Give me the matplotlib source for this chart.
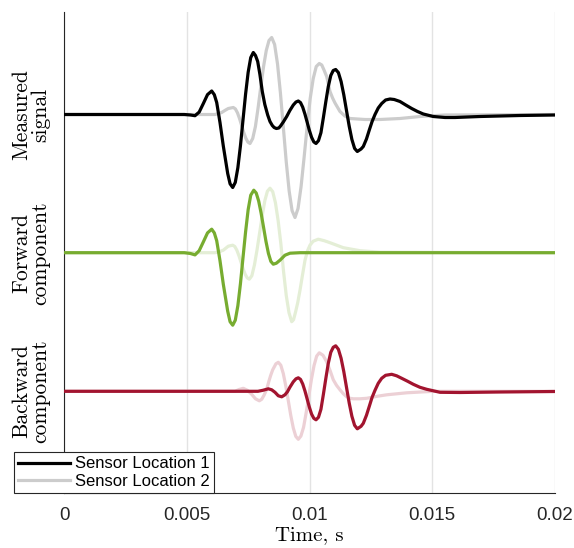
import matplotlib
matplotlib.use('Agg')
import matplotlib.pyplot as plt
import matplotlib.transforms as mtransforms

# time in ms, amplitude relative to the trace baseline
meas1_t = [0, 4.9, 5.15, 5.336, 5.506, 5.676, 5.846, 6.016, 6.123, 6.220, 6.354,
           6.489, 6.668, 6.765, 6.872, 6.977, 7.082, 7.187, 7.291, 7.396, 7.501,
           7.606, 7.711, 7.80, 7.890, 7.98, 8.077, 8.18, 8.297, 8.39, 8.485, 8.56,
           8.65, 8.75, 8.82, 8.933, 9.071, 9.20, 9.340, 9.45, 9.544, 9.634, 9.724,
           9.814, 9.905, 9.995, 10.085, 10.175, 10.265, 10.365, 10.466, 10.566,
           10.666, 10.766, 10.867, 10.967, 11.067, 11.177, 11.287, 11.397, 11.507,
           11.617, 11.727, 11.837, 11.947, 12.10, 12.191, 12.32, 12.436, 12.55,
           12.668, 12.80, 12.941, 13.10, 13.279, 13.45, 13.686, 13.92, 14.163,
           14.40, 14.635, 15.043, 15.519, 15.927, 16.945, 18.574, 20.0]
meas1_y = [0, 0, -0.005, -0.012, 0.024, 0.11, 0.199, 0.235, 0.198, 0.12, -0.08,
           -0.315, -0.59, -0.693, -0.73, -0.679, -0.532, -0.313, -0.055, 0.203, 0.422,
           0.569, 0.62, 0.59, 0.53, 0.40, 0.23, 0.10, -0.005, -0.07, -0.11, -0.13,
           -0.14, -0.135, -0.115, -0.075, -0.02, 0.04, 0.095, 0.125, 0.135, 0.119, 0.073,
           0.004, -0.0775, -0.159, -0.228, -0.274, -0.29, -0.262, -0.182, -0.03,
           0.13, 0.28, 0.39, 0.44, 0.45, 0.419, 0.33, 0.197, 0.04,
           -0.117, -0.25, -0.339, -0.37, -0.345, -0.32, -0.245, -0.155, -0.07,
           0.0, 0.065, 0.11, 0.145, 0.155, 0.15, 0.13, 0.095, 0.06,
           0.03, 0.005, -0.02, -0.03, -0.03, -0.02, -0.01, -0.005]

meas2_t = [0, 6.151, 6.424, 6.55, 6.692, 6.896, 6.981, 7.066, 7.151, 7.236, 7.321,
           7.406, 7.491, 7.576, 7.687, 7.797, 7.908, 8.018, 8.129, 8.239, 8.350,
           8.460, 8.579, 8.697, 8.816, 8.935, 9.053, 9.172, 9.290, 9.409, 9.533,
           9.657, 9.780, 9.904, 10.028, 10.152, 10.275, 10.399, 10.50, 10.591, 10.70,
           10.835, 10.94, 11.039, 11.242, 11.44, 11.650, 12.261, 12.872, 13.686,
           14.501, 15.519, 20.0]
meas2_y = [0, 0, 0.02, 0.04, 0.06, 0.07, 0.056, 0.017, -0.041, -0.11, -0.179,
           -0.237, -0.276, -0.29, -0.24, -0.12, 0.07, 0.28, 0.48, 0.64, 0.74,
           0.77, 0.70, 0.506, 0.214, -0.13, -0.474, -0.766, -0.961, -1.03, -0.94,
           -0.72, -0.43, -0.12, 0.16, 0.36, 0.48, 0.51, 0.495, 0.445, 0.38,
           0.23, 0.165, 0.115, 0.03, -0.015, -0.04, -0.05, -0.05, -0.04,
           -0.02, -0.005, 0]

fwd1_t = [0, 4.9, 5.15, 5.336, 5.506, 5.676, 5.846, 6.016, 6.123, 6.220, 6.354,
          6.489, 6.668, 6.765, 6.872, 6.977, 7.082, 7.187, 7.291, 7.396, 7.501,
          7.606, 7.73, 7.829, 7.929, 8.028, 8.128, 8.227, 8.327, 8.426, 8.525,
          8.65, 8.798, 9.002, 9.206, 9.613, 20.0]
fwd1_y = [0, 0, -0.008, -0.022, 0.02, 0.108, 0.198, 0.235, 0.198, 0.12, -0.08,
          -0.315, -0.585, -0.69, -0.725, -0.675, -0.53, -0.31, -0.05, 0.207, 0.43,
          0.575, 0.625, 0.597, 0.517, 0.397, 0.255, 0.113, -0.007, -0.087, -0.115,
          -0.105, -0.075, -0.025, -0.005, 0, 0]

fwd2_t = [0, 6.151, 6.35, 6.489, 6.692, 6.872, 6.957, 7.041, 7.126, 7.21, 7.295,
          7.379, 7.464, 7.548, 7.653, 7.759, 7.864, 7.970, 8.075, 8.180, 8.286,
          8.391, 8.502, 8.612, 8.723, 8.833, 8.944, 9.054, 9.165, 9.275, 9.35,
          9.430, 9.52, 9.613, 9.71, 9.817, 9.92, 10.020, 10.15, 10.358, 10.6,
          10.835, 11.377, 12.057, 12.872, 20.0]
fwd2_y = [0, 0, 0.012, 0.025, 0.065, 0.075, 0.062, 0.025, -0.03, -0.095, -0.16,
          -0.215, -0.252, -0.265, -0.23, -0.12, 0.03, 0.2, 0.37, 0.52, 0.615,
          0.645, 0.61, 0.5, 0.32, 0.09, -0.19, -0.43, -0.6, -0.69, -0.67,
          -0.595, -0.50, -0.375, -0.23, -0.075, 0.02, 0.075, 0.115, 0.135, 0.12,
          0.10, 0.05, 0.02, 0.005, 0]

bwd1_t = [0, 7.9, 8.1, 8.322, 8.46, 8.595, 8.73, 8.868, 9.0, 9.1, 9.20, 9.340,
          9.45, 9.544, 9.634, 9.724, 9.814, 9.905, 9.995, 10.085, 10.175, 10.265,
          10.365, 10.466, 10.566, 10.666, 10.766, 10.867, 10.967, 11.067, 11.177,
          11.287, 11.397, 11.507, 11.617, 11.727, 11.837, 11.947, 12.10, 12.191,
          12.32, 12.436, 12.55, 12.668, 12.80, 12.941, 13.10, 13.348, 13.55,
          13.756, 14.0, 14.228, 14.5, 14.774, 15.316, 16.130, 17.760, 20.0]
bwd1_y = [0, 0, 0.01, 0.025, 0.015, -0.01, -0.045, -0.055, -0.035, -0.005, 0.04, 0.095,
          0.125, 0.135, 0.119, 0.073, 0.004, -0.0775, -0.159, -0.228, -0.27, -0.285,
          -0.26, -0.18, -0.03, 0.13, 0.28, 0.39, 0.44, 0.455, 0.42,
          0.33, 0.197, 0.04, -0.117, -0.25, -0.34, -0.375, -0.35, -0.32,
          -0.24, -0.15, -0.06, 0.01, 0.08, 0.13, 0.16, 0.17, 0.155,
          0.13, 0.10, 0.07, 0.04, 0.02, -0.01, -0.012, -0.007, -0.002]

bwd2_t = [0, 6.965, 7.13, 7.304, 7.47, 7.646, 7.80, 7.955, 8.052, 8.149, 8.257,
          8.342, 8.42, 8.501, 8.632, 8.729, 8.831, 8.933, 9.035, 9.137, 9.238,
          9.34, 9.442, 9.544, 9.651, 9.758, 9.865, 9.972, 10.078, 10.185, 10.292,
          10.399, 10.55, 10.701, 10.85, 10.969, 11.1, 11.242, 11.38, 11.515, 11.65,
          11.784, 12.05, 12.330, 12.75, 13.145, 13.959, 15.043, 20.0]
bwd2_y = [0, 0, 0.018, 0.03, 0.01, -0.03, -0.075, -0.095, -0.08, -0.039, 0.02,
          0.0975, 0.16, 0.215, 0.275, 0.29, 0.261, 0.177, 0.052, -0.095, -0.242,
          -0.367, -0.451, -0.48, -0.447, -0.36, -0.213, -0.0475, 0.118, 0.258, 0.352,
          0.385, 0.36, 0.295, 0.2, 0.115, 0.06, 0.015, -0.025, -0.055, -0.07,
          -0.075, -0.075, -0.07, -0.05, -0.035, -0.015, 0, 0]

row_names = ['Measured\nsignal', 'Forward\ncomponent', 'Backward\ncomponent']
x_ticks = [0, 0.005, 0.01, 0.015, 0.02]
x_ticklabels = ['0', '0.005', '0.01', '0.015', '0.02']

c_black = '#000000'
c_grey = '#cccccc'
c_green = '#77ac30'
c_green_lt = '#e4eed6'
c_red = '#a2142f'
c_red_lt = '#ecd0d5'

offsets = [0.0, -1.382, -2.768]

fig = plt.figure(figsize=(5.74, 5.48), dpi=100)
ax = fig.add_axes([64 / 574, 1 - 493 / 548, 491 / 574, 481 / 548])

def sec(t_ms):
    return [t / 1000 for t in t_ms]

lw = 2.3
rows = [(meas1_t, meas1_y, meas2_t, meas2_y, c_black, c_grey),
        (fwd1_t, fwd1_y, fwd2_t, fwd2_y, c_green, c_green_lt),
        (bwd1_t, bwd1_y, bwd2_t, bwd2_y, c_red, c_red_lt)]
handles = []
for (t1, y1, t2, y2, c1, c2), off in zip(rows, offsets):
    h2, = ax.plot(sec(t2), [v + off for v in y2], color=c2, lw=lw,
                  solid_joinstyle='round', zorder=2)
    h1, = ax.plot(sec(t1), [v + off for v in y1], color=c1, lw=lw,
                  solid_joinstyle='round', zorder=3)
    handles.append((h1, h2))

ax.set_xlim(0, 0.02)
ax.set_ylim(-3.785, 1.025)
ax.set_xticks(x_ticks)
ax.set_xticklabels(x_ticklabels, fontsize=13.5, family='Liberation Sans')
ax.set_yticks([])
ax.tick_params(axis='x', length=0, pad=10, colors='#262626')
ax.grid(axis='x', color='#e3e3e3', lw=1)
ax.set_axisbelow(True)
for s in ['top', 'right']:
    ax.spines[s].set_visible(False)
for s in ['left', 'bottom']:
    ax.spines[s].set_color('#262626')
    ax.spines[s].set_linewidth(0.8)

ax.set_xlabel('Time, s', family='cmr10', fontsize=15, labelpad=2)

trans = mtransforms.blended_transform_factory(ax.transAxes, ax.transData)
for name, off in zip(row_names, offsets):
    ax.text(-0.067, off, name, transform=trans, rotation=90, ha='center',
            va='center', family='cmr10', fontsize=15.5, linespacing=1.0,
            multialignment='center')

leg = ax.legend([handles[0][0], handles[0][1]],
                ['Sensor Location 1', 'Sensor Location 2'],
                loc='lower left', bbox_to_anchor=(14 / 574, 1 - 493 / 548),
                bbox_transform=fig.transFigure, fancybox=False, framealpha=1,
                edgecolor='#262626', prop={'family': 'Liberation Sans', 'size': 12},
                handlelength=3.1, handletextpad=0.3, borderpad=0.25,
                labelspacing=0.15, borderaxespad=0)
leg.get_frame().set_linewidth(0.8)

fig.savefig('out.png', dpi=100)
